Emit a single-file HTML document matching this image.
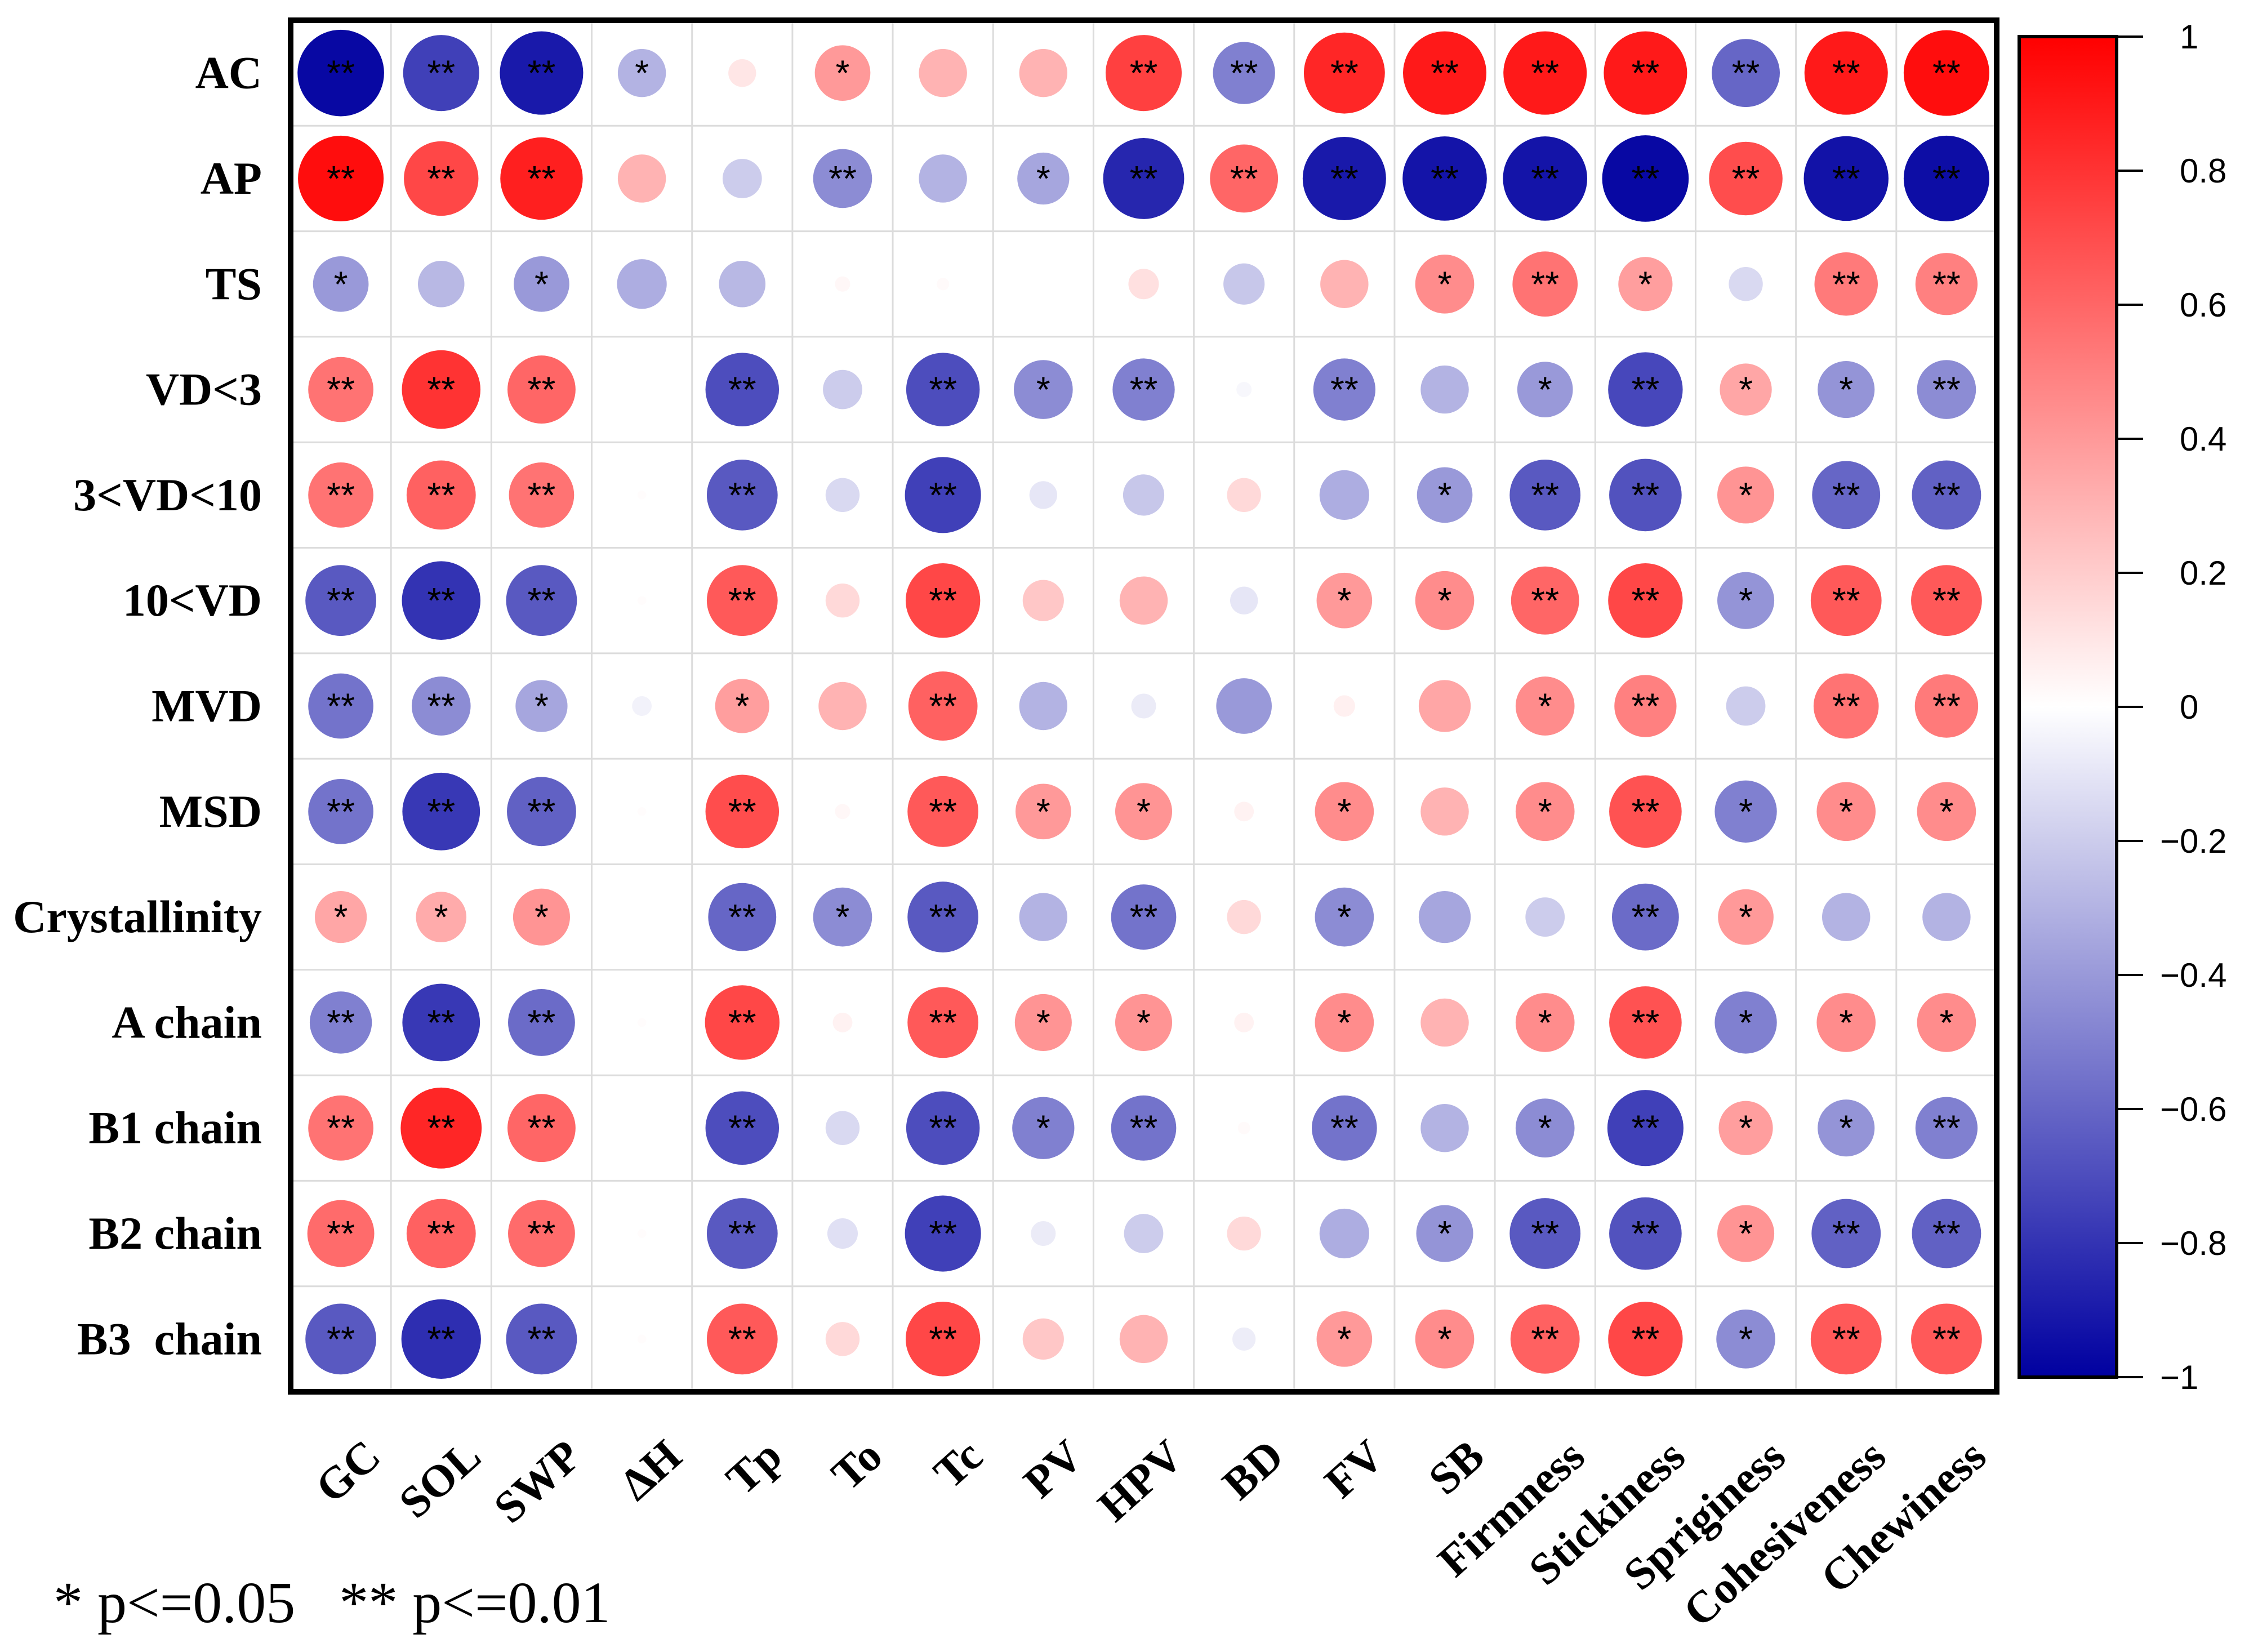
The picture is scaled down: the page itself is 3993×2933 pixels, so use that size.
<!DOCTYPE html>
<html><head><meta charset="utf-8"><style>html,body{margin:0;padding:0;background:#fff}svg{display:block}</style></head>
<body>
<svg id="chart" width="3993" height="2933" viewBox="0 0 3993 2933" xmlns="http://www.w3.org/2000/svg"></svg>
<script>
const rowLabels = ["AC","AP","TS","VD<3","3<VD<10","10<VD","MVD","MSD","Crystallinity","A chain","B1 chain","B2 chain","B3  chain"];
const colLabels = ["GC","SOL","SWP","ΔH","Tp","To","Tc","PV","HPV","BD","FV","SB","Firmness","Stickiness","Spriginess","Cohesiveness","Chewiness"];
const rAC = [-0.97,-0.75,-0.9,-0.3,0.1,0.4,0.3,0.3,0.75,-0.5,0.85,0.9,0.9,0.9,-0.6,0.9,0.95];
const rAP = [0.95,0.72,0.88,0.3,-0.2,-0.45,-0.3,-0.35,-0.85,0.6,-0.9,-0.92,-0.92,-0.97,0.7,-0.93,-0.95];
const rTS = [-0.4,-0.28,-0.4,-0.32,-0.28,0.03,0.02,0,0.12,-0.22,0.3,0.45,0.55,0.38,-0.15,0.52,0.5];
const rVD3 = [0.55,0.8,0.6,0,-0.7,-0.2,-0.7,-0.45,-0.5,-0.03,-0.5,-0.3,-0.4,-0.72,0.35,-0.42,-0.45];
const rVD310 = [0.55,0.62,0.55,0.01,-0.65,-0.15,-0.75,-0.1,-0.22,0.15,-0.32,-0.4,-0.65,-0.68,0.42,-0.6,-0.62];
const rVD10 = [-0.65,-0.8,-0.65,0.01,0.65,0.15,0.72,0.22,0.3,-0.1,0.4,0.45,0.6,0.72,-0.42,0.65,0.65];
const rMVD = [-0.55,-0.45,-0.35,-0.05,0.38,0.3,0.62,-0.3,-0.08,-0.4,0.06,0.35,0.45,0.5,-0.2,0.55,0.52];
const rMSD = [-0.55,-0.78,-0.62,0.01,0.7,0.03,0.65,0.4,0.42,0.05,0.45,0.3,0.45,0.68,-0.5,0.45,0.45];
const rCry = [0.35,0.33,0.42,0,-0.6,-0.45,-0.65,-0.3,-0.55,0.15,-0.45,-0.35,-0.2,-0.58,0.4,-0.3,-0.3];
const rA = [-0.5,-0.78,-0.58,0.01,0.72,0.05,0.65,0.42,0.42,0.05,0.45,0.3,0.45,0.68,-0.5,0.45,0.45];
const rB1 = [0.55,0.85,0.6,0,-0.7,-0.15,-0.7,-0.5,-0.55,0.02,-0.55,-0.3,-0.45,-0.75,0.38,-0.42,-0.5];
const rB2 = [0.58,0.62,0.58,0.01,-0.65,-0.12,-0.75,-0.08,-0.2,0.15,-0.32,-0.42,-0.65,-0.68,0.42,-0.62,-0.62];
const rB3 = [-0.65,-0.82,-0.65,0.01,0.65,0.15,0.72,0.22,0.3,-0.07,0.4,0.45,0.62,0.72,-0.45,0.65,0.65];
const sAC = ["**","**","**","*","","*","","","**","**","**","**","**","**","**","**","**"];
const sAP = ["**","**","**","","","**","","*","**","**","**","**","**","**","**","**","**"];
const sTS = ["*","","*","","","","","","","","","*","**","*","","**","**"];
const sVD3 = ["**","**","**","","**","","**","*","**","","**","","*","**","*","*","**"];
const sVD310 = ["**","**","**","","**","","**","","","","","*","**","**","*","**","**"];
const sVD10 = ["**","**","**","","**","","**","","","","*","*","**","**","*","**","**"];
const sMVD = ["**","**","*","","*","","**","","","","","","*","**","","**","**"];
const sMSD = ["**","**","**","","**","","**","*","*","","*","","*","**","*","*","*"];
const sCry = ["*","*","*","","**","*","**","","**","","*","","","**","*","",""];
const sA = ["**","**","**","","**","","**","*","*","","*","","*","**","*","*","*"];
const sB1 = ["**","**","**","","**","","**","*","**","","**","","*","**","*","*","**"];
const sB2 = ["**","**","**","","**","","**","","","","","*","**","**","*","**","**"];
const sB3 = ["**","**","**","","**","","**","","","","*","*","**","**","*","**","**"];
const values = [rAC,rAP,rTS,rVD3,rVD310,rVD10,rMVD,rMSD,rCry,rA,rB1,rB2,rB3];
const sigs = [sAC,sAP,sTS,sVD3,sVD310,sVD10,sMVD,sMSD,sCry,sA,sB1,sB2,sB3];
const cbTicks = [1,0.8,0.6,0.4,0.2,0,-0.2,-0.4,-0.6,-0.8,-1];

const NS="http://www.w3.org/2000/svg";
const svg=document.getElementById('chart');
const L=516,T=36,R=3545,B=2471;
const cw=(R-L)/colLabels.length, rh=(B-T)/rowLabels.length;
const xC=i=>L+cw*(i+0.5), yC=j=>T+rh*(j+0.5);
const rad=v=>Math.sqrt(Math.abs(v))*78;
function color(v){
  v=Math.max(-1,Math.min(1,v));
  let r,g,b;
  if(v>=0){r=255;g=Math.round(255*(1-v));b=g;}
  else{const t=-v;r=Math.round(255*(1-t));g=r;b=Math.round(255-95*t);}
  return `rgb(${r},${g},${b})`;
}
function mk(tag,attrs,parent){const e=document.createElementNS(NS,tag);for(const k in attrs)e.setAttribute(k,attrs[k]);(parent||svg).appendChild(e);return e;}

for(let i=1;i<colLabels.length;i++){
  const l=mk('line',{x1:L+cw*i,x2:L+cw*i,y1:T,y2:B,stroke:'#dcdcdc','stroke-width':3});
  
  
}
for(let j=1;j<rowLabels.length;j++){
  const l=mk('line',{x1:L,x2:R,y1:T+rh*j,y2:T+rh*j,stroke:'#dcdcdc','stroke-width':3});
  
  
}
values.forEach((row,j)=>row.forEach((v,i)=>{
  const c=mk('circle',{cx:xC(i),cy:yC(j),r:rad(v),fill:color(v)});
  
  
  const s=sigs[j][i];
  if(s){
    const t=mk('text',{x:xC(i),y:yC(j)+22,'text-anchor':'middle','font-family':'Liberation Sans, sans-serif','font-size':64,fill:'#000'});
    t.textContent=s;
    
    
  }
}));
const fr=mk('rect',{x:L,y:T,width:R-L,height:B-T,fill:'none',stroke:'#000','stroke-width':10});


rowLabels.forEach((lab,j)=>{
  const t=mk('text',{x:465,y:yC(j)+27,'text-anchor':'end','font-family':'Liberation Serif, serif','font-weight':'bold','font-size':82,fill:'#000',style:'white-space:pre'});
  t.textContent=lab;
  
  
});
colLabels.forEach((lab,i)=>{
  const x=xC(i)+75,y=2592;
  const t=mk('text',{x:x,y:y,'text-anchor':'end','font-family':'Liberation Serif, serif','font-weight':'bold','font-size':80,fill:'#000',transform:`rotate(-42 ${x} ${y})`});
  t.textContent=lab;
  
  
});
const CBL=3585,CBR=3758,CBT=65,CBB=2445;
const defs=mk('defs',{});
const grad=mk('linearGradient',{id:'cbg',x1:0,y1:0,x2:0,y2:1},defs);
for(let k=0;k<=20;k++){const v=1-k/10;mk('stop',{offset:(k/20),'stop-color':color(v)},grad);}
const cb=mk('rect',{x:CBL,y:CBT,width:CBR-CBL,height:CBB-CBT,fill:'url(#cbg)',stroke:'#000','stroke-width':6});


const cbY=v=>CBT+(1-v)/2*(CBB-CBT);
cbTicks.forEach(v=>{
  const l=mk('line',{x1:CBR,x2:3805,y1:cbY(v),y2:cbY(v),stroke:'#000','stroke-width':4});
  
  
  const t=mk('text',{x:v<0?3835:3870,y:cbY(v)+21,'font-family':'Liberation Sans, sans-serif','font-size':60,fill:'#000'});
  t.textContent=v<0?('\u2212'+String(-v)):String(v);
  
  
});
const lg=mk('text',{x:95,y:2880,'font-family':'Liberation Serif, serif','font-size':104,fill:'#000',style:'white-space:pre'});
lg.textContent='* p<=0.05   ** p<=0.01';


</script>
</body></html>
